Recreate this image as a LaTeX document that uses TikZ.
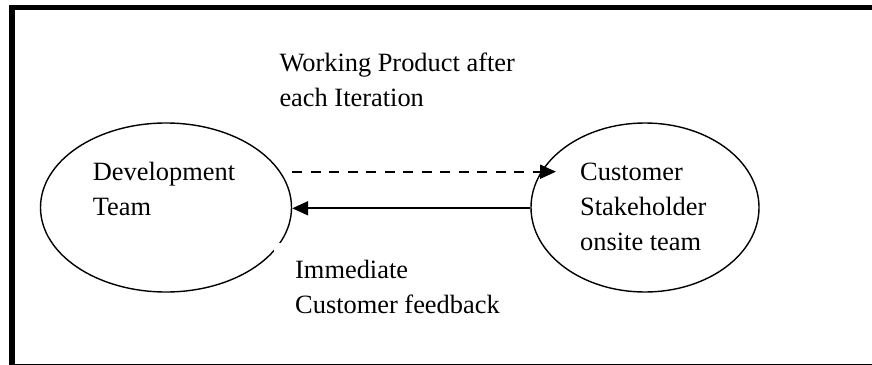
\documentclass[tikz,border=0pt]{standalone}
\usepackage{fontspec}
\setmainfont{Liberation Serif}
\usetikzlibrary{arrows.meta,shapes.geometric}
\tikzset{
  blob/.style={draw, ellipse, line width=1.4pt, inner sep=0pt},
  lbl/.style={anchor=base west, align=left, inner sep=0pt,
    font=\fontsize{26.4}{35}\selectfont},
  conn/.style={line width=2pt, -{Triangle[length=16pt,width=14pt]}},
}
\begin{document}
\begin{tikzpicture}[x=1pt,y=-1pt]
\useasboundingbox (0,0) rectangle (872,364);
\fill[white] (0,0) rectangle (872,364);
% outer frame
\draw[line width=5.5pt] (12,7.3) rectangle (880,366.5);
% ellipses
\node[blob, minimum width=251pt, minimum height=169pt] (L) at (166,207.5) {};
\node[blob, minimum width=228pt, minimum height=169pt] (R) at (645,207.5) {};
% text box background covering part of the ellipse
\fill[white] (274,243) rectangle (520,330);
% labels (anchored at the baseline of the last line)
\node[lbl] (top) at (279.3,106.7) {Working Product after\\each Iteration};
\node[lbl] (dev) at (92.7,215) {Development\\Team};
\node[lbl] (cus) at (580,250) {Customer\\Stakeholder\\onsite team};
\node[lbl] (imm) at (295,313.3) {Immediate\\Customer feedback};
% connectors
\coordinate (ds) at (292,171.7);
\coordinate (de) at (556,171.7);
\draw[conn, dash pattern=on 10pt off 8.5pt] (ds) -- (de);
\draw[conn] ([yshift=-0.8pt]R.west) -- ([yshift=-0.8pt]L.east);
\end{tikzpicture}
\end{document}
